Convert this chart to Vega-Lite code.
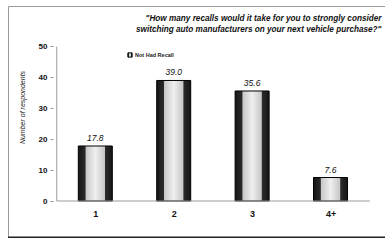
{
  "$schema": "https://vega.github.io/schema/vega-lite/v6.json",
  "autosize": {"type": "none"},
  "padding": {"left": 8, "top": 6, "right": 0, "bottom": 0},
  "width": 385,
  "height": 232,
  "background": "white",
  "config": {
    "view": {"stroke": "#9a9a9a", "strokeWidth": 1},
    "font": "Liberation Sans"
  },
  "title": {
    "text": ["\"How many recalls would it take for you to strongly consider", "switching auto manufacturers on your next vehicle purchase?\""],
    "anchor": "end",
    "orient": "top",
    "baseline": "top",
    "offset": -6,
    "dx": -13,
    "dy": 22,
    "fontSize": 8.2,
    "fontWeight": "bold",
    "fontStyle": "italic",
    "lineHeight": 11,
    "color": "#111"
  },
  "datasets": {
    "recalls": [
      {"recalls": 1, "respondents": 17.8, "series": "Not Had Recall"},
      {"recalls": 2, "respondents": 39.0, "series": "Not Had Recall"},
      {"recalls": 3, "respondents": 35.6, "series": "Not Had Recall"},
      {"recalls": 4, "respondents": 7.6, "series": "Not Had Recall"}
    ],
    "one": [{}]
  },
  "layer": [
    {
      "data": {"name": "recalls"},
      "mark": {
        "type": "bar",
        "size": 34,
        "strokeWidth": 1,
        "fill": {
          "gradient": "linear", "x1": 0, "y1": 0, "x2": 1, "y2": 0,
          "stops": [
            {"offset": 0, "color": "#151515"},
            {"offset": 0.2, "color": "#2a2a2a"},
            {"offset": 0.23, "color": "#c8c8c8"},
            {"offset": 0.5, "color": "#efefef"},
            {"offset": 0.77, "color": "#c8c8c8"},
            {"offset": 0.8, "color": "#2a2a2a"},
            {"offset": 1, "color": "#151515"}
          ]
        }
      },
      "encoding": {
        "x": {
          "field": "recalls", "type": "quantitative",
          "scale": {"domain": [-0.0497, 4.733], "nice": false, "zero": false},
          "axis": {
            "orient": "bottom", "offset": -37, "values": [1, 2, 3, 4],
            "labelExpr": "datum.value == 4 ? '4+' : format(datum.value, 'd')",
            "domain": false, "ticks": false, "grid": false, "title": null,
            "labelFontSize": 9, "labelFontWeight": "bold", "labelColor": "#111",
            "labelPadding": 8
          }
        },
        "y": {
          "field": "respondents", "type": "quantitative",
          "scale": {"domain": [-11.97, 63.1], "nice": false, "zero": false},
          "axis": {
            "orient": "left", "offset": -45, "values": [0, 10, 20, 30, 40, 50],
            "domain": false, "grid": false, "ticks": true, "tickSize": 3, "tickColor": "#999",
            "labelFontSize": 8, "labelFontWeight": "bold", "labelColor": "#111", "labelPadding": 3,
            "title": "Number of respondents", "titleFontSize": 7, "titleFontStyle": "italic",
            "titleFontWeight": "normal", "titleColor": "#222",
            "titleX": -28, "titleY": 101, "titleAngle": -90
          }
        },
        "stroke": {
          "field": "series", "type": "nominal",
          "scale": {"range": ["#000000"]},
          "legend": {
            "orient": "none", "legendX": 119, "legendY": 46, "title": null,
            "symbolType": "square", "symbolSize": 18, "symbolFillColor": "#777",
            "symbolStrokeColor": "#000", "symbolStrokeWidth": 1,
            "labelFontSize": 5.5, "labelFontWeight": "bold", "labelColor": "#222",
            "padding": 0, "labelOffset": 2
          }
        }
      }
    },
    {
      "data": {"name": "recalls"},
      "mark": {"type": "text", "dy": -8, "fontSize": 8.5, "fontStyle": "italic", "color": "#111", "baseline": "middle"},
      "encoding": {
        "x": {"field": "recalls", "type": "quantitative"},
        "y": {"field": "respondents", "type": "quantitative"},
        "text": {"field": "respondents", "type": "quantitative", "format": ".1f"}
      }
    },
    {
      "data": {"name": "one"},
      "mark": {"type": "rule", "color": "#999", "strokeWidth": 1},
      "encoding": {"x": {"datum": 0.509}, "y": {"datum": 0}, "y2": {"datum": 50}}
    },
    {
      "data": {"name": "one"},
      "mark": {"type": "rule", "color": "#999", "strokeWidth": 1},
      "encoding": {"x": {"datum": 0.509}, "x2": {"datum": 4.5}, "y": {"datum": 0}}
    },
    {
      "data": {"name": "one"},
      "mark": {"type": "rule", "color": "#222", "strokeWidth": 3},
      "encoding": {"y": {"datum": -11.97}}
    }
  ]
}
